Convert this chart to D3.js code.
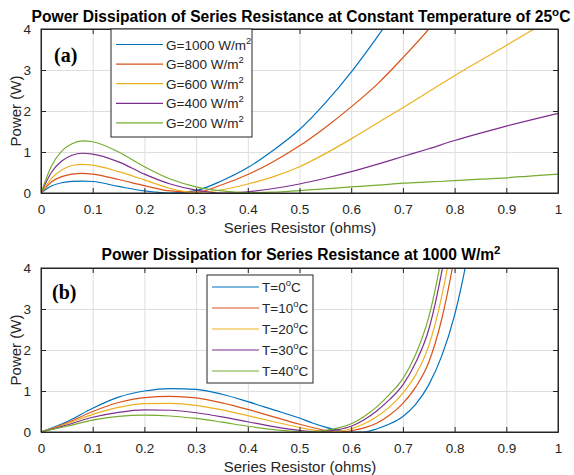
<!DOCTYPE html>
<html>
<head>
<meta charset="utf-8">
<script src="https://cdn.jsdelivr.net/npm/d3@7"></script>
<style>
  body { margin: 0; background: #fff; }
  svg text { font-family: "Liberation Sans", Arial, Helvetica, sans-serif; }
</style>
</head>
<body>
<script>
// ---- data ----
const xTicks = [0, 0.1, 0.2, 0.3, 0.4, 0.5, 0.6, 0.7, 0.8, 0.9, 1];
const yTicks = [0, 1, 2, 3, 4];
const colors = ["#0072BD", "#D95319", "#EDB120", "#7E2F8E", "#77AC30"];

// (a) irradiance sweep at 25 C
const labelsA = ["G=1000 W/m", "G=800 W/m", "G=600 W/m", "G=400 W/m", "G=200 W/m"];
const rA = [0, 0.02, 0.04, 0.06, 0.08, 0.1, 0.15, 0.2, 0.25, 0.3, 0.35, 0.4, 0.45, 0.5,
            0.55, 0.6, 0.65, 0.7, 0.75, 0.8, 0.85, 0.9, 0.95, 1];
const pA1000 = [0, 0.17, 0.25, 0.285, 0.29, 0.28, 0.16, 0.05, 0.0, 0.06, 0.3, 0.62, 1.05, 1.55,
                2.2, 2.95, 3.8, 4.7, 5.6, 6.5, 7.5, 8.5, 9.5, 10.5];
const pA800 = [0, 0.27, 0.4, 0.46, 0.48, 0.46, 0.33, 0.18, 0.05, 0.02, 0.2, 0.45, 0.77, 1.15,
               1.6, 2.1, 2.65, 3.3, 4.0, 4.8, 5.6, 6.4, 7.2, 8.0];
const pA600 = [0, 0.35, 0.56, 0.67, 0.7, 0.68, 0.52, 0.32, 0.11, 0.01, 0.08, 0.22, 0.4, 0.64,
               0.96, 1.32, 1.7, 2.08, 2.47, 2.86, 3.23, 3.6, 3.97, 4.3];
const pA400 = [0, 0.5, 0.78, 0.92, 0.97, 0.95, 0.76, 0.46, 0.22, 0.07, 0.0, 0.03, 0.11, 0.22,
               0.36, 0.52, 0.7, 0.89, 1.08, 1.28, 1.46, 1.63, 1.79, 1.94];
const pA200 = [0, 0.65, 1.02, 1.2, 1.27, 1.25, 1.0, 0.64, 0.34, 0.15, 0.05, 0.01, 0.02, 0.06,
               0.1, 0.15, 0.19, 0.24, 0.27, 0.3, 0.34, 0.37, 0.42, 0.46];

// (b) temperature sweep at 1000 W/m2
const labelsB = ["T=0", "T=10", "T=20", "T=30", "T=40"];
const rB = [0, 0.05, 0.1, 0.15, 0.2, 0.25, 0.3, 0.35, 0.4, 0.45, 0.5, 0.525, 0.55, 0.575,
            0.6, 0.625, 0.65, 0.675, 0.7, 0.725, 0.75, 0.775, 0.8, 0.825, 0.85];
const pB0 = [0, 0.25, 0.58, 0.85, 1.0, 1.06, 1.04, 0.92, 0.74, 0.54, 0.34, 0.22, 0.12, 0.04,
             0.0, 0.0, 0.08, 0.2, 0.38, 0.68, 1.15, 1.85, 2.85, 4.3, 6.2];
const pB10 = [0, 0.22, 0.5, 0.72, 0.84, 0.87, 0.83, 0.71, 0.55, 0.37, 0.19, 0.11, 0.04, 0.0,
              0.03, 0.1, 0.22, 0.42, 0.7, 1.1, 1.7, 2.75, 4.3, 6.3, 8.5];
const pB20 = [0, 0.2, 0.43, 0.6, 0.69, 0.7, 0.65, 0.54, 0.4, 0.25, 0.11, 0.05, 0.01, 0.02,
              0.08, 0.2, 0.38, 0.62, 0.95, 1.4, 2.1, 3.3, 5.0, 7.2, 9.5];
const pB30 = [0, 0.17, 0.36, 0.48, 0.54, 0.53, 0.47, 0.37, 0.25, 0.13, 0.04, 0.01, 0.02, 0.06,
              0.14, 0.3, 0.52, 0.8, 1.15, 1.7, 2.5, 3.9, 5.8, 8.2, 11];
const pB40 = [0, 0.14, 0.29, 0.38, 0.41, 0.39, 0.33, 0.24, 0.14, 0.06, 0.01, 0.0, 0.04, 0.1,
              0.2, 0.38, 0.62, 0.93, 1.3, 1.9, 2.8, 4.3, 6.4, 9.0, 12];

const W = 574, H = 475;
const svg = d3.select("body").append("svg").attr("width", W).attr("height", H);

function drawPanel(o) {
  let x = d3.scaleLinear().domain([0, 1]).range([41, 558]);
  let y = d3.scaleLinear().domain([0, 4]).range([o.bottom, o.top]);
  let g = svg.append("g");
  let h = o.bottom - o.top, w = 558 - 41;

  // grid
  let grid = g.append("g");
  grid.append("g").attr("transform", `translate(0,${o.bottom})`)
    .call(d3.axisBottom(x).tickValues(xTicks).tickSize(-h).tickFormat(""));
  grid.append("g").attr("transform", "translate(41,0)")
    .call(d3.axisLeft(y).tickValues(yTicks).tickSize(-w).tickFormat(""));
  grid.selectAll(".domain").remove();
  grid.selectAll("line").attr("stroke", "#dedede");

  // curves
  let clipId = "clip" + o.id;
  svg.append("clipPath").attr("id", clipId).append("rect")
    .attr("x", 41).attr("y", o.top).attr("width", w).attr("height", h);
  let line = d3.line().x((d, i) => x(o.r[i])).y(d => y(d)).curve(d3.curveMonotoneX);
  g.append("g").attr("clip-path", `url(#${clipId})`)
    .selectAll("path").data(o.series).join("path")
    .attr("d", d => line(d))
    .attr("fill", "none")
    .attr("stroke", (d, i) => colors[i])
    .attr("stroke-width", 1.2);

  // axes with inward ticks on all sides
  let axes = g.append("g");
  let ax = axes.append("g").attr("transform", `translate(0,${o.bottom})`)
    .call(d3.axisBottom(x).tickValues(xTicks).tickSizeInner(-5).tickSizeOuter(0).tickPadding(11)
      .tickFormat(d3.format("~g")));
  let ay = axes.append("g").attr("transform", "translate(41,0)")
    .call(d3.axisLeft(y).tickValues(yTicks).tickSizeInner(-5).tickSizeOuter(0).tickPadding(10)
      .tickFormat(d3.format("~g")));
  axes.append("g").attr("transform", `translate(0,${o.top})`)
    .call(d3.axisTop(x).tickValues(xTicks).tickSizeInner(-5).tickSizeOuter(0).tickFormat(""));
  axes.append("g").attr("transform", "translate(558,0)")
    .call(d3.axisRight(y).tickValues(yTicks).tickSizeInner(-5).tickSizeOuter(0).tickFormat(""));
  axes.selectAll(".domain, .tick line").attr("stroke", "#262626");
  [ax, ay].forEach(a => a.selectAll("text")
    .attr("fill", "#262626").style("font-size", "13.5px"));

  g.append("rect").attr("x", 41).attr("y", o.top).attr("width", w).attr("height", h)
    .attr("fill", "none").attr("stroke", "#262626");

  // labels
  g.append("text").attr("x", 300).attr("y", o.bottom + 40).attr("text-anchor", "middle")
    .attr("fill", "#262626").style("font-size", "15px").text("Series Resistor (ohms)");
  g.append("text").attr("transform", `translate(21,${(o.top + o.bottom) / 2}) rotate(-90)`)
    .attr("text-anchor", "middle").attr("fill", "#262626").style("font-size", "15px")
    .text("Power (W)");

  let t = g.append("text").attr("x", 301).attr("y", o.titleY).attr("text-anchor", "middle")
    .style("font-size", "15.6px").style("font-weight", "bold").attr("fill", "#000");
  t.append("tspan").text(o.title);
  t.append("tspan").attr("dy", -6).style("font-size", "11.5px").text(o.titleSup);
  if (o.titleEnd) t.append("tspan").attr("dy", 6).text(o.titleEnd);

  g.append("text").attr("x", o.tagX).attr("y", o.tagY)
    .style("font-family", "'Liberation Serif', 'Times New Roman', serif")
    .style("font-size", "20px").style("font-weight", "bold").text(o.tag);

  // legend
  let L = o.legend;
  g.append("rect").attr("x", L.x).attr("y", L.y).attr("width", L.w).attr("height", L.h)
    .attr("fill", "#fff").attr("stroke", "#262626");
  let items = g.selectAll(".leg" + o.id).data(o.labels).join("g")
    .attr("transform", (d, i) => `translate(0,${L.y0 + i * L.dy})`);
  items.append("line").attr("x1", L.x + 5).attr("x2", L.x + 52)
    .attr("stroke", (d, i) => colors[i]).attr("stroke-width", 1.2);
  let lt = items.append("text").attr("x", L.x + 55).attr("y", 5)
    .attr("fill", "#262626").style("font-size", "13.5px");
  lt.append("tspan").text(d => d);
  lt.append("tspan").attr("dy", -6).style("font-size", "9.5px").text(L.sup);
  if (L.end) lt.append("tspan").attr("dy", 6).text(L.end);
}

drawPanel({
  id: "a", top: 29, bottom: 193, r: rA,
  series: [pA1000, pA800, pA600, pA400, pA200], labels: labelsA,
  title: "Power Dissipation of Series Resistance at Constant Temperature of 25",
  titleSup: "o", titleEnd: "C", titleY: 22,
  tag: "(a)", tagX: 54, tagY: 62,
  legend: { x: 111, y: 29, w: 141, h: 108, y0: 44.5, dy: 19.6, sup: "2" }
});

drawPanel({
  id: "b", top: 268, bottom: 432, r: rB,
  series: [pB0, pB10, pB20, pB30, pB40], labels: labelsB,
  title: "Power Dissipation for Series Resistance at 1000 W/m",
  titleSup: "2", titleEnd: "", titleY: 260,
  tag: "(b)", tagX: 52, tagY: 299,
  legend: { x: 207, y: 275, w: 106, h: 108, y0: 287, dy: 21, sup: "o", end: "C" }
});
</script>
</body>
</html>
